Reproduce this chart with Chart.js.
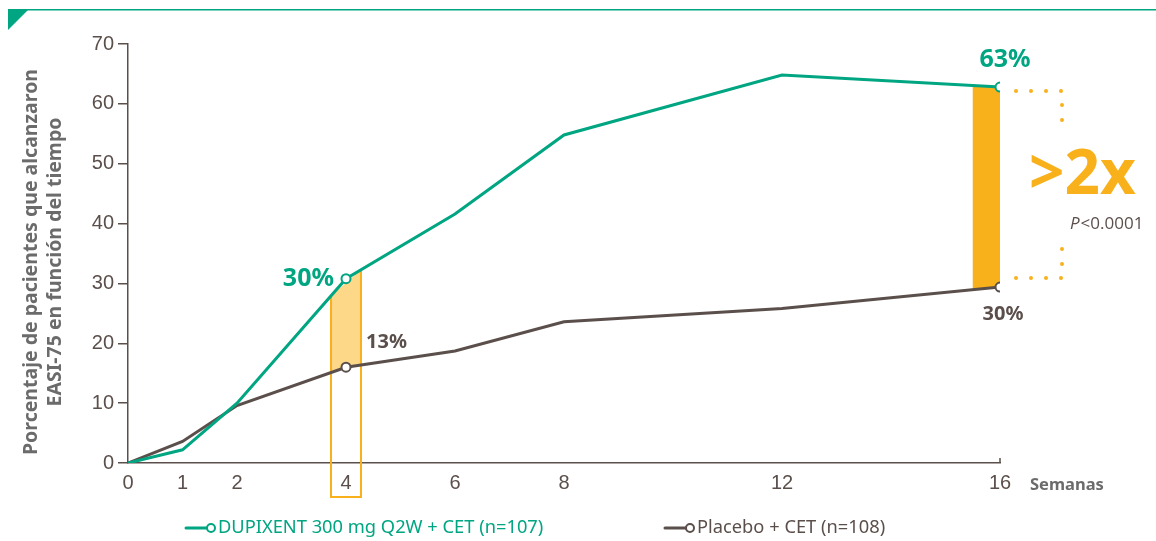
<!DOCTYPE html>
<html lang="es">
<head>
    <meta charset="UTF-8">
    <title>EASI-75</title>
    <script src="https://cdn.jsdelivr.net/npm/chart.js@4.4.1/dist/chart.umd.min.js"></script>
    <style>
        body, html { margin: 0; padding: 0; background: #fff; }
        .wrap { width: 1156px; height: 541px; }
    </style>
</head>
<body>
    <div class="wrap">
        <canvas id="easiChart" width="1156" height="541"></canvas>
    </div>
    <script>
        // datos
        const weeks = [0, 1, 2, 4, 6, 8, 12, 16];
        const dupixent = [0, 2.2, 10, 30.8, 41.6, 54.8, 64.8, 62.8];
        const placebo = [0, 3.6, 9.6, 16, 18.7, 23.6, 25.8, 29.4];
        const yTicks = [0, 10, 20, 30, 40, 50, 60, 70];
        const seriesNames = ['DUPIXENT 300 mg Q2W + CET (n=107)', 'Placebo + CET (n=108)'];
        const markedWeeks = [4, 16];

        const GREEN = '#00A582';
        const BROWN = '#5B4F4B';
        const ORANGE = '#F8B11B';
        const LIGHT_ORANGE = '#FDD889';

        function interp(xs, ys, x) {
            for (let i = 0; i < xs.length - 1; i++) {
                if (x >= xs[i] && x <= xs[i + 1]) {
                    const t = (x - xs[i]) / (xs[i + 1] - xs[i]);
                    return ys[i] + t * (ys[i + 1] - ys[i]);
                }
            }
            return ys[ys.length - 1];
        }

        function pointR(ctx) {
            return markedWeeks.includes(weeks[ctx.dataIndex]) ? 4.5 : 0;
        }

        // zona resaltada entre las dos curvas
        function fillBetween(ctx, x, y, w0, w1) {
            ctx.beginPath();
            ctx.moveTo(x.getPixelForValue(w0), y.getPixelForValue(interp(weeks, dupixent, w0)));
            ctx.lineTo(x.getPixelForValue(w1), y.getPixelForValue(interp(weeks, dupixent, w1)));
            ctx.lineTo(x.getPixelForValue(w1), y.getPixelForValue(interp(weeks, placebo, w1)));
            ctx.lineTo(x.getPixelForValue(w0), y.getPixelForValue(interp(weeks, placebo, w0)));
            ctx.closePath();
            ctx.fill();
        }

        const overlay = {
            id: 'overlay',
            beforeDatasetsDraw(chart) {
                const ctx = chart.ctx;
                const x = chart.scales.x, y = chart.scales.y;
                ctx.save();
                // semana 4
                const a = 3.725, b = 4.275;
                ctx.fillStyle = LIGHT_ORANGE;
                fillBetween(ctx, x, y, a, b);
                ctx.strokeStyle = ORANGE;
                ctx.lineWidth = 2;
                ctx.beginPath();
                ctx.moveTo(x.getPixelForValue(a), y.getPixelForValue(interp(weeks, dupixent, a)));
                ctx.lineTo(x.getPixelForValue(a), y.bottom + 34);
                ctx.lineTo(x.getPixelForValue(b), y.bottom + 34);
                ctx.lineTo(x.getPixelForValue(b), y.getPixelForValue(interp(weeks, dupixent, b)));
                ctx.stroke();
                // semana 16
                ctx.fillStyle = ORANGE;
                fillBetween(ctx, x, y, 15.5, 16);
                ctx.restore();
            },
            afterDraw(chart) {
                const ctx = chart.ctx;
                const x = chart.scales.x, y = chart.scales.y;
                ctx.save();

                // banda superior
                ctx.fillStyle = GREEN;
                ctx.fillRect(8, 9, 1148, 1.5);
                ctx.beginPath();
                ctx.moveTo(8, 9); ctx.lineTo(29, 9); ctx.lineTo(8, 30); ctx.closePath();
                ctx.fill();

                // título eje y
                ctx.save();
                ctx.translate(43, 262);
                ctx.rotate(-Math.PI / 2);
                ctx.fillStyle = '#6B6B6B';
                ctx.font = 'bold 19.5px "Noto Sans"';
                ctx.textAlign = 'center';
                ctx.textBaseline = 'middle';
                ctx.fillText('Porcentaje de pacientes que alcanzaron', 0, -12);
                ctx.fillText('EASI-75 en función del tiempo', 0, 12);
                ctx.restore();

                // Semanas
                ctx.fillStyle = '#6B6B6B';
                ctx.font = 'bold 16.5px "Noto Sans"';
                ctx.textAlign = 'left';
                ctx.textBaseline = 'middle';
                ctx.fillText('Semanas', 1030, 485);

                // tick en 16
                ctx.strokeStyle = BROWN;
                ctx.lineWidth = 1.5;
                ctx.beginPath();
                ctx.moveTo(x.right, y.bottom);
                ctx.lineTo(x.right, y.bottom - 5);
                ctx.stroke();

                // etiquetas de valores
                const g4 = y.getPixelForValue(interp(weeks, dupixent, 4));
                const p4 = y.getPixelForValue(interp(weeks, placebo, 4));
                const g16 = y.getPixelForValue(interp(weeks, dupixent, 16));
                const p16 = y.getPixelForValue(interp(weeks, placebo, 16));
                const x4 = x.getPixelForValue(4), x16 = x.getPixelForValue(16);

                ctx.font = 'bold 25px "Noto Sans"';
                ctx.fillStyle = GREEN;
                ctx.textAlign = 'right';
                ctx.fillText('30%', x4 - 12, g4);
                ctx.textAlign = 'center';
                ctx.fillText('63%', x16 + 5, g16 - 27);

                ctx.font = 'bold 20px "Noto Sans"';
                ctx.fillStyle = BROWN;
                ctx.textAlign = 'left';
                ctx.fillText('13%', x4 + 20, p4 - 25);
                ctx.textAlign = 'center';
                ctx.fillText('30%', x16 + 3, p16 + 27);

                // corchete punteado
                const bx = x16 + 62;
                ctx.strokeStyle = ORANGE;
                ctx.lineWidth = 4;
                ctx.lineCap = 'round';
                ctx.setLineDash([0, 15]);
                ctx.beginPath();
                ctx.moveTo(x16 + 16, g16 + 4);
                ctx.lineTo(bx, g16 + 4);
                ctx.lineTo(bx, g16 + 44);
                ctx.stroke();
                ctx.beginPath();
                ctx.moveTo(x16 + 16, p16 - 9);
                ctx.lineTo(bx, p16 - 9);
                ctx.lineTo(bx, p16 - 39);
                ctx.stroke();
                ctx.setLineDash([]);

                ctx.fillStyle = ORANGE;
                ctx.font = 'bold 62px "Open Sans"';
                ctx.textAlign = 'left';
                ctx.textBaseline = 'alphabetic';
                ctx.fillText('>2x', 1029, 194);

                ctx.fillStyle = BROWN;
                ctx.font = 'italic 17px "Open Sans"';
                ctx.textBaseline = 'middle';
                ctx.fillText('P', 1070, 224);
                const pw = ctx.measureText('P').width;
                ctx.font = '17px "Open Sans"';
                ctx.fillText('<0.0001', 1070 + pw + 1, 224);

                // leyenda
                const legend = [
                    { x: 186, color: GREEN, text: seriesNames[0] },
                    { x: 665, color: BROWN, text: seriesNames[1] }
                ];
                ctx.font = '18.3px "Noto Sans"';
                legend.forEach(item => {
                    ctx.strokeStyle = item.color;
                    ctx.lineWidth = 3;
                    ctx.beginPath();
                    ctx.moveTo(item.x, 528);
                    ctx.lineTo(item.x + 21, 528);
                    ctx.stroke();
                    ctx.fillStyle = '#fff';
                    ctx.lineWidth = 2;
                    ctx.beginPath();
                    ctx.arc(item.x + 25, 528, 4, 0, Math.PI * 2);
                    ctx.fill();
                    ctx.stroke();
                    ctx.fillStyle = item.color;
                    ctx.textAlign = 'left';
                    ctx.fillText(item.text, item.x + 32, 528);
                });
                ctx.restore();
            }
        };

        new Chart(document.getElementById('easiChart').getContext('2d'), {
            type: 'line',
            data: {
                labels: weeks,
                datasets: [{
                    label: seriesNames[0],
                    data: weeks.map((w, i) => ({ x: w, y: dupixent[i] })),
                    borderColor: GREEN,
                    borderWidth: 3,
                    pointRadius: pointR,
                    pointBackgroundColor: '#fff',
                    pointBorderColor: GREEN,
                    pointBorderWidth: 2,
                    tension: 0
                }, {
                    label: seriesNames[1],
                    data: weeks.map((w, i) => ({ x: w, y: placebo[i] })),
                    borderColor: BROWN,
                    borderWidth: 3,
                    pointRadius: pointR,
                    pointBackgroundColor: '#fff',
                    pointBorderColor: BROWN,
                    pointBorderWidth: 2,
                    tension: 0
                }]
            },
            options: {
                responsive: false,
                animation: false,
                events: [],
                layout: { padding: { top: 44, right: 156, left: 0, bottom: 0 } },
                plugins: { legend: { display: false }, tooltip: { enabled: false } },
                scales: {
                    x: {
                        type: 'linear',
                        min: 0,
                        max: 16,
                        afterBuildTicks: axis => { axis.ticks = weeks.map(v => ({ value: v })); },
                        afterFit: axis => { axis.height = 78; },
                        grid: { display: false, drawTicks: false },
                        border: { color: BROWN, width: 1.5 },
                        ticks: {
                            padding: 8,
                            maxRotation: 0,
                            color: BROWN,
                            font: { family: 'Liberation Sans', size: 20 }
                        }
                    },
                    y: {
                        min: 0,
                        max: 70,
                        afterBuildTicks: axis => { axis.ticks = yTicks.map(v => ({ value: v })); },
                        afterFit: axis => { axis.width = 128; },
                        grid: { drawOnChartArea: false, tickLength: 10, color: BROWN, lineWidth: 1.5 },
                        border: { color: BROWN, width: 1.5 },
                        ticks: {
                            padding: 4,
                            color: BROWN,
                            font: { family: 'Liberation Sans', size: 20 }
                        }
                    }
                }
            },
            plugins: [overlay]
        });
    </script>
</body>
</html>
